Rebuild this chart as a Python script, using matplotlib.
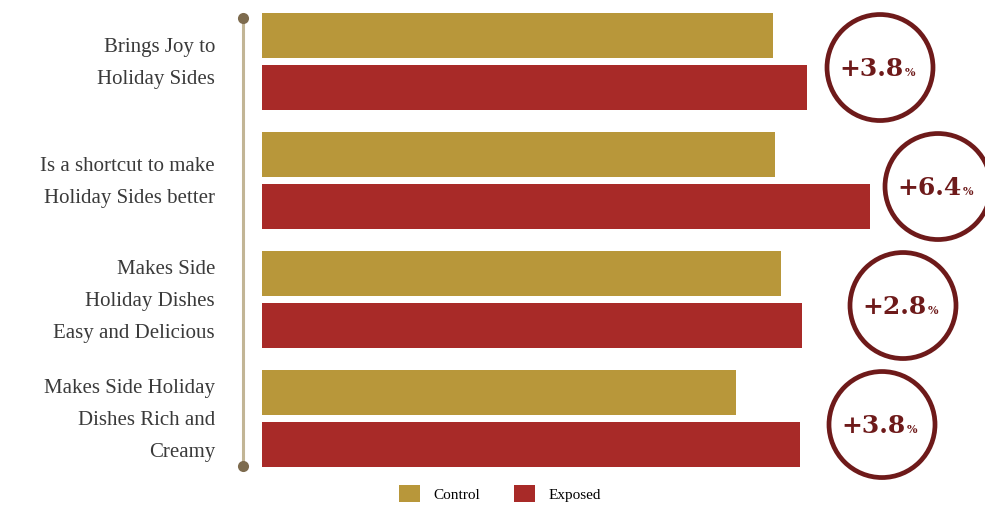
import matplotlib
matplotlib.use("Agg")
import matplotlib.pyplot as plt
from matplotlib.patches import Circle, Patch
from matplotlib.lines import Line2D
import numpy as np

# --- data -------------------------------------------------------------
categories = [
    "Brings Joy to\nHoliday Sides",
    "Is a shortcut to make\nHoliday Sides better",
    "Makes Side\nHoliday Dishes\nEasy and Delicious",
    "Makes Side Holiday\nDishes Rich and\nCreamy",
]
control = [51.1, 51.3, 51.9, 47.4]
exposed = [54.5, 60.8, 54.0, 53.8]
lift_labels = ["+3.8", "+6.4", "+2.8", "+3.8"]
series_names = ["Control", "Exposed"]

# --- style ------------------------------------------------------------
GOLD = "#b8973a"
RED = "#a82a28"
MAROON = "#6e1a1a"
TEXT = "#3a3a3a"
SERIF = ["Liberation Serif", "DejaVu Serif"]

W, H = 985, 516
fig = plt.figure(figsize=(W / 100, H / 100), dpi=100)
fig.patch.set_facecolor("white")

# bar axes spans from the category rail to the right edge
ax = fig.add_axes([262 / W, 0, 1 - 262 / W, 1])
ax.set_xlim(0, 72.3)
ax.set_ylim(3.819, -0.517)
ax.axis("off")

y = np.arange(len(categories))
bar_h = 0.38
off = 0.22
ax.barh(y - off, control, height=bar_h, color=GOLD, edgecolor="none")
ax.barh(y + off, exposed, height=bar_h, color=RED, edgecolor="none")

# overlay in pixel coordinates for labels, rail and lift badges
ov = fig.add_axes([0, 0, 1, 1], zorder=5)
ov.set_xlim(0, W)
ov.set_ylim(H, 0)
ov.axis("off")
ov.patch.set_alpha(0)

def to_px(xd, yd):
    disp = ax.transData.transform((xd, yd))
    return ov.transData.inverted().transform(disp)

# category labels
for i, cat in enumerate(categories):
    _, py = to_px(0, i)
    ov.text(215, py + 2, cat, ha="right", va="center", family=SERIF,
            fontsize=15, color=TEXT, linespacing=1.95)

# vertical rail with end dots
ov.add_line(Line2D([243, 243], [18, 466], color="#c2b595", lw=2.2))
ov.plot([243, 243], [18, 466], "o", ms=8, color="#7d6b4e", mec="none")

# lift badges
badge_x = [61.8, 67.6, 64.1, 62.0]
for i, lab in enumerate(lift_labels):
    cx, cy = to_px(badge_x[i], i)
    cy += 6
    ov.add_patch(Circle((cx, cy), 53, facecolor="white", edgecolor=MAROON, lw=3.4))
    t = ov.text(cx + 24, cy + 1, lab, ha="right", va="center",
                family=["DejaVu Serif"], fontweight="bold", fontsize=18,
                color=MAROON)
    ov.annotate("%", xy=(1, 0.1), xycoords=t, xytext=(0.5, 0),
                textcoords="offset points", ha="left", va="bottom",
                family=["DejaVu Serif"], fontweight="bold", fontsize=8, color=MAROON)

# legend
handles = [Patch(facecolor=GOLD, edgecolor="none"), Patch(facecolor=RED, edgecolor="none")]
fig.legend(handles, series_names, loc="lower center", bbox_to_anchor=(500 / W, 0.0),
           ncol=2, frameon=False, prop={"family": SERIF, "size": 11},
           handlelength=1.35, handleheight=1.4, columnspacing=2.2, handletextpad=0.9)

fig.savefig("out.png", dpi=100, facecolor="white")
